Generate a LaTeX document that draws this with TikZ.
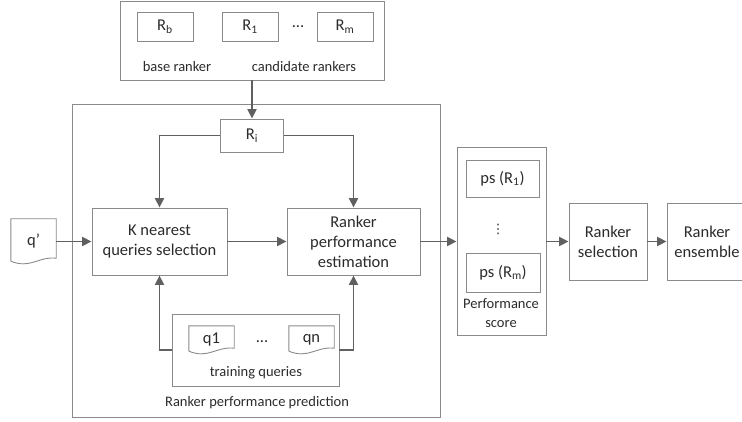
\documentclass[tikz,border=0pt]{standalone}
\usepackage{fontspec}
\setmainfont{Carlito}
\newfontfamily\symfont{DejaVu Sans}
\usetikzlibrary{arrows.meta,calc}
\definecolor{boxline}{HTML}{8A8A8A}
\definecolor{arrline}{HTML}{606060}
\definecolor{txt}{HTML}{2B2B2B}
\newcommand\docoutline[1]{%
  \draw[boxline, line width=0.9pt]
    ($(#1.south west)+(0,2pt)$) -- (#1.north west) -- (#1.north east)
    -- ($(#1.south east)+(0,5pt)$)
    .. controls ($(#1.south east)+(-18pt,7pt)$) and ($(#1.south west)+(20pt,-6pt)$)
    .. ($(#1.south west)+(0,2pt)$);}
\begin{document}
\begin{tikzpicture}[x=1pt,y=-1pt,
  box/.style={draw=boxline, line width=0.9pt, text=txt, align=center, inner sep=0pt,
              font=\fontsize{16.5}{20}\selectfont},
  docnode/.style={inner sep=0pt, text=txt, font=\fontsize{16.5}{20}\selectfont},
  lbl/.style={text=txt, inner sep=0pt, align=center},
  smalltxt/.style={font=\fontsize{14.5}{19}\selectfont},
  bigtxt/.style={font=\fontsize{16.5}{20}\selectfont},
  arr/.style={draw=arrline, line width=1.8pt, -{Triangle[length=9.5pt,width=9pt]}},
]
\useasboundingbox (0,0) rectangle (742,422);
\clip (0,0) rectangle (742,422);

% top box
\node[box, minimum width=264pt, minimum height=79pt] (top) at (252,40.5) {};
\node[box, minimum width=56pt, minimum height=29pt] (rb) at (165,26.5) {R\textsubscript{b}};
\node[box, minimum width=56pt, minimum height=29pt] (r1) at (250,26.5) {R\textsubscript{1}};
\node[lbl, bigtxt] (tdots) at (298,27) {...};
\node[box, minimum width=56pt, minimum height=29pt] (rm) at (345,26.5) {R\textsubscript{m}};
\node[lbl, smalltxt] (base) at (177,67) {base ranker};
\node[lbl, smalltxt] (cand) at (304,67) {candidate rankers};

% big prediction box
\node[box, minimum width=368pt, minimum height=313pt] (big) at (256,260.5) {};
\node[box, minimum width=63pt, minimum height=33pt] (ri) at (252,135.5) {R\textsubscript{i}};
\node[box, minimum width=135pt, minimum height=67pt] (knn) at (159.5,241.5) {K nearest\\queries selection};
\node[box, minimum width=133pt, minimum height=67pt] (rpe) at (353.5,241.5) {Ranker\\performance\\estimation};
\node[box, minimum width=167pt, minimum height=72pt] (train) at (255.5,350) {};
\node[docnode, minimum width=45pt, minimum height=27pt] (q1) at (211.5,339.5) {\raisebox{1pt}{q1}};
\docoutline{q1}
\node[lbl, bigtxt] (qdots) at (262,342) {...};
\node[docnode, minimum width=45pt, minimum height=27pt] (qn) at (311.5,339.5) {\raisebox{1pt}{qn}};
\docoutline{qn}
\node[lbl, smalltxt] (trainlbl) at (256,373) {training queries};
\node[lbl, smalltxt] (biglbl) at (257,403) {Ranker performance prediction};

% q' document
\node[docnode, minimum width=45pt, minimum height=44pt] (qp) at (33.5,241) {\raisebox{3pt}{q’}};
\docoutline{qp}

% performance score box
\node[box, minimum width=89pt, minimum height=188pt] (perf) at (501.5,241) {};
\node[box, minimum width=73pt, minimum height=37pt] (ps1) at (502.5,178.5) {ps (R\textsubscript{1})};
\node[lbl, text=txt] (vd) at (498,229) {\symfont\fontsize{13}{13}\selectfont ⋮};
\node[box, minimum width=74pt, minimum height=39pt] (psm) at (503,272.5) {ps (R\textsubscript{m})};
\node[lbl, smalltxt] (perflbl) at (501,313.5) {Performance\\score};

% selection / ensemble
\node[box, minimum width=78pt, minimum height=77pt] (sel) at (608,241.5) {Ranker\\selection};
\node[box, minimum width=80pt, minimum height=77pt] (ens) at (707,241.5) {Ranker\\ensemble};

% connectors
\draw[arr] (top.south) -- (ri.north);
\draw[arr] (ri.west) -| (knn.north);
\draw[arr] (ri.east) -| (rpe.north);
\draw[arr] (qp.east |- knn.west) -- (knn.west);
\draw[arr] (knn.east) -- (rpe.west);
\draw[arr] (train.west) -| (knn.south);
\draw[arr] (train.east) -| (rpe.south);
\draw[arr] (rpe.east) -- (rpe.east -| perf.west);
\draw[arr] (perf.east |- sel.west) -- (sel.west);
\draw[arr] (sel.east) -- (ens.west);
\end{tikzpicture}
\end{document}
